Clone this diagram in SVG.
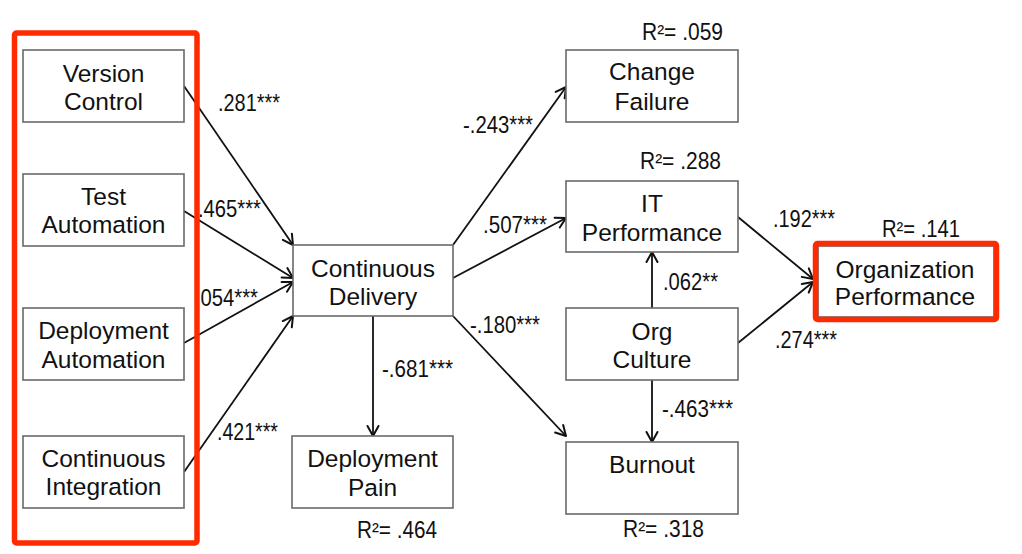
<svg xmlns="http://www.w3.org/2000/svg" width="1022" height="554" viewBox="0 0 1022 554">
<style>
  .box { fill: #ffffff; stroke: #6a6a6a; stroke-width: 1.6; }
  .nt { font-family: "Liberation Sans", Arial, sans-serif; font-size: 24.5px; fill: #111; text-anchor: middle; }
  .lbl { font-family: "Liberation Sans", Arial, sans-serif; font-size: 23px; fill: #111; }
  .edge { fill: none; stroke: #111; stroke-width: 1.8; marker-end: url(#arr); }
  .hl { fill: none; stroke: #ff2a00; stroke-width: 5.5; }
</style>
<defs>
  <marker id="arr" markerUnits="userSpaceOnUse" viewBox="-13 -8 15 16" markerWidth="15" markerHeight="16" refX="0" refY="0" orient="auto">
    <path d="M-10,-5.5 L0,0 L-10,5.5" fill="none" stroke="#111" stroke-width="2" stroke-linecap="round" stroke-linejoin="round"/>
  </marker>
</defs>
<rect width="1022" height="554" fill="#ffffff"/>

<g id="connectors">
  <path class="edge" d="M184,86 L293,245"/>
  <path class="edge" d="M184,211 L293,278"/>
  <path class="edge" d="M184,343 L293,282"/>
  <path class="edge" d="M184,472 L293,316"/>
  <path class="edge" d="M453,245 L566,87"/>
  <path class="edge" d="M453,278 L566,218"/>
  <path class="edge" d="M373,316 L373,436"/>
  <path class="edge" d="M453,316 L566,436"/>
  <path class="edge" d="M652,308 L652,252"/>
  <path class="edge" d="M652,380 L652,442"/>
  <path class="edge" d="M738,217 L813,279"/>
  <path class="edge" d="M738,343 L813,282"/>
</g>

<g id="edge-labels">
  <text class="lbl" x="218" y="111" textLength="62" lengthAdjust="spacingAndGlyphs">.281***</text>
  <text class="lbl" x="198" y="217" textLength="63" lengthAdjust="spacingAndGlyphs">.465***</text>
  <text class="lbl" x="195" y="306" textLength="63" lengthAdjust="spacingAndGlyphs">.054***</text>
  <text class="lbl" x="217" y="440" textLength="61" lengthAdjust="spacingAndGlyphs">.421***</text>
  <text class="lbl" x="463" y="133" textLength="70" lengthAdjust="spacingAndGlyphs">-.243***</text>
  <text class="lbl" x="483" y="233" textLength="64" lengthAdjust="spacingAndGlyphs">.507***</text>
  <text class="lbl" x="382" y="377" textLength="71" lengthAdjust="spacingAndGlyphs">-.681***</text>
  <text class="lbl" x="470" y="333" textLength="70" lengthAdjust="spacingAndGlyphs">-.180***</text>
  <text class="lbl" x="663" y="290" textLength="55" lengthAdjust="spacingAndGlyphs">.062**</text>
  <text class="lbl" x="662" y="417" textLength="71" lengthAdjust="spacingAndGlyphs">-.463***</text>
  <text class="lbl" x="773" y="227" textLength="62" lengthAdjust="spacingAndGlyphs">.192***</text>
  <text class="lbl" x="775" y="348" textLength="62" lengthAdjust="spacingAndGlyphs">.274***</text>
</g>

<g id="r-squared">
  <text class="lbl" x="642" y="40" textLength="81" lengthAdjust="spacingAndGlyphs">R²= .059</text>
  <text class="lbl" x="640" y="169" textLength="81" lengthAdjust="spacingAndGlyphs">R²= .288</text>
  <text class="lbl" x="882" y="237" textLength="78" lengthAdjust="spacingAndGlyphs">R²= .141</text>
  <text class="lbl" x="357" y="538" textLength="80" lengthAdjust="spacingAndGlyphs">R²= .464</text>
  <text class="lbl" x="623" y="537" textLength="81" lengthAdjust="spacingAndGlyphs">R²= .318</text>
</g>

<g id="version-control">
  <rect class="box" x="23" y="50" width="161" height="72"/>
  <text class="nt" x="103.5" y="82">Version</text>
  <text class="nt" x="103.5" y="110">Control</text>
</g>
<g id="test-automation">
  <rect class="box" x="23" y="174" width="161" height="72"/>
  <text class="nt" x="103.5" y="205">Test</text>
  <text class="nt" x="103.5" y="233">Automation</text>
</g>
<g id="deployment-automation">
  <rect class="box" x="23" y="308" width="161" height="72"/>
  <text class="nt" x="103.5" y="339">Deployment</text>
  <text class="nt" x="103.5" y="368">Automation</text>
</g>
<g id="continuous-integration">
  <rect class="box" x="23" y="436" width="161" height="72"/>
  <text class="nt" x="103.5" y="467">Continuous</text>
  <text class="nt" x="103.5" y="495">Integration</text>
</g>
<g id="continuous-delivery">
  <rect class="box" x="293" y="245" width="160" height="71"/>
  <text class="nt" x="373" y="277">Continuous</text>
  <text class="nt" x="373" y="305">Delivery</text>
</g>
<g id="deployment-pain">
  <rect class="box" x="292" y="436" width="161" height="72"/>
  <text class="nt" x="372.5" y="467">Deployment</text>
  <text class="nt" x="372.5" y="496">Pain</text>
</g>
<g id="change-failure">
  <rect class="box" x="566" y="50" width="172" height="72"/>
  <text class="nt" x="652" y="80">Change</text>
  <text class="nt" x="652" y="110">Failure</text>
</g>
<g id="it-performance">
  <rect class="box" x="566" y="181" width="172" height="71"/>
  <text class="nt" x="652" y="212">IT</text>
  <text class="nt" x="652" y="241">Performance</text>
</g>
<g id="org-culture">
  <rect class="box" x="566" y="308" width="172" height="72"/>
  <text class="nt" x="652" y="340">Org</text>
  <text class="nt" x="652" y="368">Culture</text>
</g>
<g id="burnout">
  <rect class="box" x="566" y="442" width="172" height="72"/>
  <text class="nt" x="652" y="473">Burnout</text>
</g>
<g id="organization-performance">
  <rect class="box" x="818" y="246" width="176" height="71"/>
  <text class="nt" x="905" y="278">Organization</text>
  <text class="nt" x="905" y="305">Performance</text>
</g>

<g id="highlights">
  <rect class="hl" x="14.5" y="33" width="182.5" height="510" rx="2"/>
  <rect class="hl" x="815.5" y="243.5" width="181" height="76" rx="2"/>
</g>
</svg>
